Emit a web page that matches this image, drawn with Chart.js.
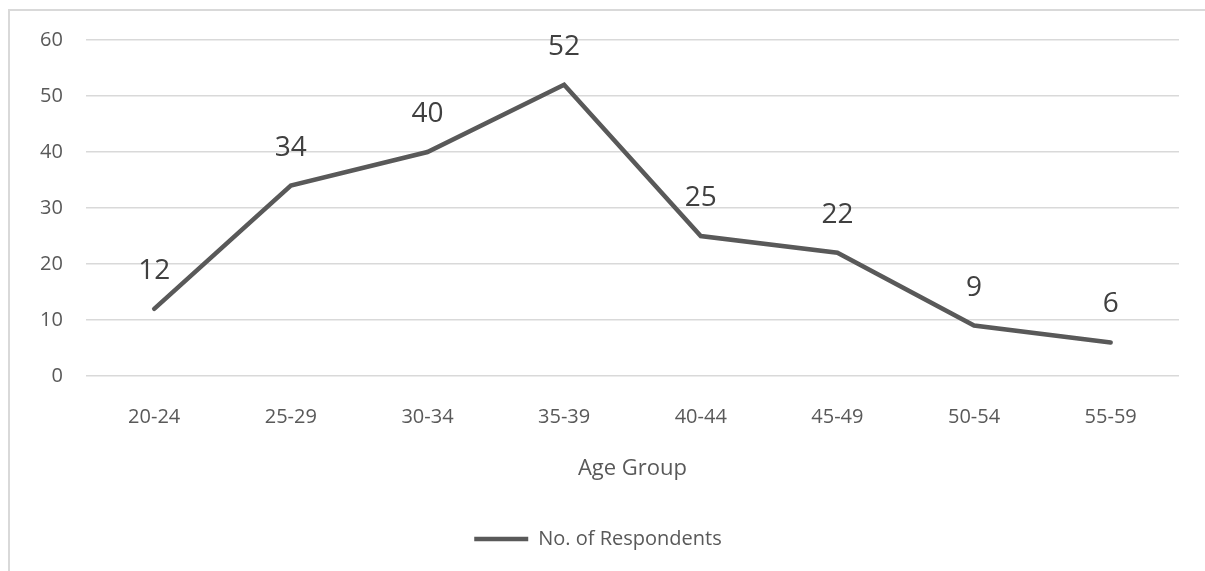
<!DOCTYPE html>
<html>
<head>
<meta charset="utf-8">
<script src="https://cdn.jsdelivr.net/npm/chart.js@4.4.1/dist/chart.umd.min.js"></script>
<style>
  html, body { margin: 0; padding: 0; background: #ffffff; }
  #wrap { position: relative; width: 1205px; height: 571px; overflow: hidden; }
  #frame { position: absolute; left: 8px; top: 9px; width: 1300px; height: 700px;
           border: 2px solid #d9d9d9; box-sizing: border-box; }
  canvas { position: absolute; left: 0; top: 0; }
</style>
</head>
<body>
<div id="wrap">
  <div id="frame"></div>
  <canvas id="c" width="1205" height="571"></canvas>
</div>
<script>
const ageGroups = ['20-24', '25-29', '30-34', '35-39', '40-44', '45-49', '50-54', '55-59'];
const respondents = [12, 34, 40, 52, 25, 22, 9, 6];
const yTicks = [0, 10, 20, 30, 40, 50, 60];

const FONT = "'Open Sans', 'Liberation Sans', sans-serif";
const INK = '#595959';

// Value labels drawn above each point of the line
const valueLabels = {
  id: 'valueLabels',
  afterDatasetsDraw(chart) {
    const { ctx } = chart;
    const meta = chart.getDatasetMeta(0);
    ctx.save();
    ctx.font = '28px ' + FONT;
    ctx.fillStyle = '#404040';
    ctx.textAlign = 'center';
    ctx.textBaseline = 'middle';
    meta.data.forEach((pt, i) => {
      ctx.fillText(String(respondents[i]), pt.x, pt.y - 38);
    });
    ctx.restore();
  }
};

new Chart(document.getElementById('c'), {
  type: 'line',
  data: {
    labels: ageGroups,
    datasets: [{
      label: 'No. of Respondents',
      data: respondents,
      borderColor: INK,
      backgroundColor: INK,
      borderWidth: 4.5,
      borderCapStyle: 'round',
      borderJoinStyle: 'miter',
      pointRadius: 0,
      pointHoverRadius: 0,
      tension: 0,
      fill: false
    }]
  },
  options: {
    responsive: false,
    animation: false,
    events: [],
    layout: { padding: { left: 17, right: 26, top: 40, bottom: 12 } },
    scales: {
      x: {
        offset: true,
        grid: { display: false, drawTicks: false },
        border: { display: false },
        ticks: { color: INK, font: { family: FONT, size: 20 }, padding: 29 },
        title: {
          display: true, text: 'Age Group', color: INK,
          font: { family: FONT, size: 22, lineHeight: 1 }, padding: { top: 0, bottom: 15 }
        }
      },
      y: {
        min: 0, max: 60,
        afterBuildTicks(scale) { scale.ticks = yTicks.map(v => ({ value: v })); },
        grid: { color: '#d9d9d9', lineWidth: 1.5, drawTicks: false },
        border: { display: false },
        ticks: { color: INK, font: { family: FONT, size: 20 }, padding: 23 }
      }
    },
    plugins: {
      legend: {
        position: 'bottom',
        labels: {
          color: INK,
          font: { family: FONT, size: 20 },
          usePointStyle: true,
          pointStyle: 'line',
          pointStyleWidth: 54,
          padding: 34
        }
      },
      tooltip: { enabled: false }
    }
  },
  plugins: [valueLabels]
});
</script>
</body>
</html>
